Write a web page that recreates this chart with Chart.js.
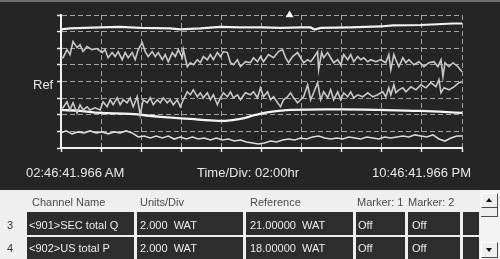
<!DOCTYPE html>
<html><head><meta charset="utf-8">
<script src="https://cdn.jsdelivr.net/npm/chart.js@4"></script>
<style>
html,body{margin:0;padding:0;width:500px;height:259px;overflow:hidden;background:#efefef;font-family:Arial,"Liberation Sans",sans-serif;}
#scope{position:absolute;left:0;top:0;width:500px;height:190px;background:#252525;}
#topstrip{position:absolute;left:0;top:0;width:500px;height:2px;background:#6e6e6e;}
canvas{position:absolute;left:0;top:0;}
.lbl{position:absolute;color:#e8e8e8;font-size:13px;line-height:13px;white-space:pre;}
.t{position:absolute;font-size:11px;line-height:11px;white-space:pre;}
.hdr{color:#4a4a4a;}
.num{color:#333;}
.cell{position:absolute;background:#2d2d2d;}
.ctext{color:#ededed;}
.btn{position:absolute;box-sizing:border-box;background:#efefef;border:1px solid;border-color:#ffffff #4a4a4a #4a4a4a #ffffff;}
.tri{position:absolute;width:0;height:0;border-left:3px solid transparent;border-right:3px solid transparent;}
</style></head><body>
<div id="scope"><canvas id="c" width="500" height="190"></canvas><div id="topstrip"></div></div>
<div id="labels"></div>
<div id="table"></div>
<script>
// ---- axis / label text ----
const START_LABEL = '02:46:41.966 AM';
const DIV_LABEL = 'Time/Div: 02:00hr';
const END_LABEL = '10:46:41.966 PM';
const REF_LABEL = 'Ref';

// x in minutes from start (0..1200, 120 min per division); y in screen divisions (0..8)
const MARKER_T = 684;

const T1 = [0,27,117,177,237,327,357,417,477,537,603,657,717,747,759,777,867,957,993,1077,1173,1200];
const V1 = [7.13,7.19,7.25,7.28,7.22,7.19,7.13,7.19,7.28,7.25,7.25,7.22,7.25,7.25,7.13,7.22,7.25,7.31,7.37,7.40,7.49,7.49];

const T2 = [0,6,18,27,36,48,57,66,78,93,
  108,123,132,141,153,162,171,183,192,201,
  213,222,231,243,252,261,273,282,291,303,
  312,321,333,342,351,363,366,378,387,396,
  408,417,426,438,447,456,468,477,486,498,
  507,516,528,537,552,567,576,588,597,606,
  621,636,651,663,672,681,693,708,717,726,
  738,747,756,768,771,780,786,798,807,816,
  828,837,846,858,867,876,888,897,906,918,
  927,942,957,972,981,987,996,1002,1011,1023,
  1032,1041,1056,1071,1086,1101,1116,1128,1137,1143,
  1149,1161,1173,1188,1200];
const V2 = [5.43,5.43,5.92,5.62,6.40,6.04,6.22,5.80,6.10,5.92,
  5.98,5.74,5.92,5.43,5.74,5.50,5.80,5.31,5.74,5.43,
  5.74,5.31,5.92,6.34,5.80,5.50,5.80,5.50,5.74,5.31,
  5.62,5.19,5.74,5.50,5.92,5.43,5.92,4.89,5.13,5.01,
  5.31,5.13,5.50,5.31,5.62,5.31,5.74,5.50,5.80,5.74,
  5.13,5.01,5.31,4.89,5.19,5.13,5.43,5.19,5.50,5.19,
  5.62,5.43,5.80,5.92,5.43,5.13,5.50,5.74,5.43,5.13,
  5.31,5.19,5.43,5.80,4.71,5.74,5.43,5.74,5.43,5.13,
  5.31,5.01,5.62,5.31,5.62,5.19,5.50,5.31,5.43,5.19,
  5.31,5.19,5.31,5.13,5.62,4.71,5.62,5.31,4.89,5.43,
  5.13,5.31,5.01,5.19,4.89,5.13,5.19,4.89,5.31,4.29,
  5.13,4.89,5.13,4.89,4.59];

const T3 = [0,6,18,27,36,48,57,66,78,87,
  102,117,126,138,147,156,168,177,186,198,
  207,216,228,237,246,258,267,276,288,297,
  306,318,327,336,348,357,366,378,387,396,
  408,417,426,438,447,456,468,477,486,498,
  507,516,528,537,552,567,576,588,597,606,
  618,627,636,648,657,666,678,687,696,708,
  717,726,738,747,756,768,777,786,798,807,
  816,828,837,846,858,867,876,888,903,918,
  933,948,963,972,981,987,996,1002,1011,1023,
  1032,1047,1062,1077,1092,1107,1122,1131,1137,1146,
  1161,1176,1191,1200];
const V3 = [2.35,2.42,2.78,2.29,2.72,2.11,2.60,2.29,2.48,2.29,
  2.42,2.29,2.78,2.48,2.90,2.60,3.02,2.60,2.90,2.72,
  3.02,2.48,3.08,1.99,2.90,2.72,3.02,2.60,2.90,2.72,
  3.02,2.72,2.90,2.60,2.90,2.48,2.90,3.38,3.20,3.50,
  3.08,3.32,3.02,3.32,2.90,3.20,2.60,3.02,3.32,3.08,
  3.38,3.02,3.20,2.90,3.32,3.20,3.38,3.02,3.62,3.08,
  3.38,2.90,3.08,2.72,2.48,2.90,3.08,3.32,3.02,2.72,
  2.90,3.08,3.80,2.90,3.32,3.93,2.90,3.38,3.02,3.50,
  2.90,3.38,2.90,3.32,3.08,3.38,3.02,3.20,3.08,3.32,
  3.08,3.20,3.38,3.08,3.62,3.20,3.80,3.32,3.50,3.62,
  3.38,3.68,3.50,3.80,3.62,3.93,3.68,4.11,3.32,3.62,
  3.50,3.68,3.93,3.99];

const T4 = [0,57,117,207,297,387,447,492,537,582,627,687,837,957,1077,1200];
const V4 = [2.29,2.23,2.11,2.05,1.87,1.75,1.66,1.63,1.75,1.99,2.17,2.29,2.32,2.29,2.23,2.11];

const T5 = [0,15,33,51,69,87,105,123,141,159,177,195,213,231,249,267,285,303,321,339,
  357,375,393,411,429,447,465,483,501,519,537,555,573,591,609,627,645,663,681,699,
  717,735,753,771,789,807,825,843,861,879,897,915,933,951,969,987,1005,1023,1041,1059,
  1077,1095,1113,1131,1149,1167,1185,1200];
const V5 = [0.91,1.03,0.85,0.97,0.91,1.03,0.91,0.97,0.85,0.97,
  0.91,1.03,0.91,0.66,0.72,0.60,0.72,0.60,0.72,0.54,
  0.66,0.54,0.66,0.54,0.60,0.48,0.60,0.48,0.54,0.42,
  0.48,0.36,0.30,0.24,0.30,0.42,0.36,0.48,0.54,0.48,
  0.60,0.54,0.66,0.72,0.60,0.54,0.60,0.54,0.66,0.60,
  0.54,0.66,0.60,0.54,0.66,0.60,0.66,0.72,0.66,0.79,
  0.72,0.66,0.79,0.54,0.42,0.60,0.72,0.72];

// ---- table ----
const ROW_NUMS = ['3','4'];
const HEADERS = ['Channel Name','Units/Div','Reference','Marker: 1','Marker: 2'];
const CHANNEL_NAMES = ['<901>SEC total Q','<902>US total P'];
const UNITS_DIV = ['2.000  WAT','2.000  WAT'];
const REFERENCES = ['21.00000  WAT','18.00000  WAT'];
const MARKER1 = ['Off','Off'];
const MARKER2 = ['Off','Off'];

function pts(t, v){ const n = Math.min(t.length, v.length); const a=[]; for(let i=0;i<n;i++) a.push({x:t[i], y:v[i]}); return a; }
function ds(t, v, color, w, tension){ return {type:'line', data:pts(t,v), borderColor:color, borderWidth:w, pointRadius:0, tension:tension||0, fill:false}; }

const gridOpt = {color:'#a2a2a2', lineWidth:1, tickLength:4, tickColor:'#eeeeee', tickWidth:1.5, tickBorderDash:[]};
const borderOpt = {display:true, color:'#f0f0f0', width:2, dash:[5,3]};

new Chart(document.getElementById('c'), {
  type:'line',
  data:{datasets:[
    ds(T1,V1,'#f2f2f2',2.2),
    ds(T2,V2,'#c8c8c8',1.6),
    ds(T3,V3,'#c8c8c8',1.6),
    ds(T4,V4,'#f4f4f4',2.3,0.4),
    ds(T5,V5,'#dadada',1.6),
    {type:'scatter', data:[{x:MARKER_T, y:8}], showLine:false, pointStyle:'triangle', pointRadius:4.5, backgroundColor:'#ffffff', borderColor:'#ffffff', borderWidth:0, clip:false}
  ]},
  options:{
    responsive:false, animation:false, devicePixelRatio:1,
    layout:{padding:{top:15,right:38,left:0,bottom:0}},
    plugins:{legend:{display:false}, tooltip:{enabled:false}},
    scales:{
      x:{type:'linear', min:0, max:1200, ticks:{stepSize:120, display:false}, grid:gridOpt, border:borderOpt, afterFit(s){s.height=42;}},
      y:{type:'linear', min:0, max:8, ticks:{stepSize:1, display:false}, grid:gridOpt, border:borderOpt, afterFit(s){s.width=61;}}
    }
  }
});

// ---- overlay labels ----
function addDiv(parent, cls, text, left, top, extra){
  const d=document.createElement('div'); d.className=cls; d.textContent=text;
  d.style.left=left+'px'; d.style.top=top+'px'; if(extra) Object.assign(d.style, extra);
  parent.appendChild(d); return d;
}
const L = document.getElementById('labels');
addDiv(L,'lbl',REF_LABEL,33,77.6);
addDiv(L,'lbl',START_LABEL,26,165.6);
addDiv(L,'lbl',DIV_LABEL,197,165.6);
addDiv(L,'lbl',END_LABEL,372,165.6);

const TB = document.getElementById('table');
const COLS = [{l:27,w:107,o:2},{l:137,w:106,o:3},{l:246,w:107,o:4},{l:356,w:49,o:2},{l:408,w:52,o:4},{l:463,w:16,o:0}];
const ROWS = [{t:212,h:23,c:220},{t:237,h:22,c:243}];
const HDR_X = [32,140,250,357,408];
HEADERS.forEach((h,i)=>addDiv(TB,'t hdr',h,HDR_X[i],196.6));
ROWS.forEach((r,ri)=>{
  COLS.forEach(c=>{ const d=document.createElement('div'); d.className='cell'; Object.assign(d.style,{left:c.l+'px',top:r.t+'px',width:c.w+'px',height:r.h+'px'}); TB.appendChild(d); });
  addDiv(TB,'t num',ROW_NUMS[ri],7,r.c);
  const vals=[CHANNEL_NAMES[ri],UNITS_DIV[ri],REFERENCES[ri],MARKER1[ri],MARKER2[ri]];
  vals.forEach((v,ci)=>addDiv(TB,'t ctext',v,COLS[ci].l+COLS[ci].o,r.c));
});
// scrollbar
const track=document.createElement('div'); Object.assign(track.style,{position:'absolute',left:'480px',top:'190px',width:'20px',height:'69px',background:'#f3f3f3'}); TB.appendChild(track);
const up=document.createElement('div'); up.className='btn'; Object.assign(up.style,{left:'481px',top:'193px',width:'17px',height:'15px'}); TB.appendChild(up);
const upT=document.createElement('div'); upT.className='tri'; Object.assign(upT.style,{left:'486px',top:'198px',borderBottom:'4px solid #111'}); TB.appendChild(upT);
const th=document.createElement('div'); Object.assign(th.style,{position:'absolute',left:'481px',top:'208px',width:'16px',height:'8px',borderRight:'1px solid #4a4a4a',borderBottom:'1px solid #4a4a4a',background:'#efefef'}); TB.appendChild(th);
const dn=document.createElement('div'); dn.className='btn'; Object.assign(dn.style,{left:'481px',top:'242px',width:'17px',height:'16px'}); TB.appendChild(dn);
const dnT=document.createElement('div'); dnT.className='tri'; Object.assign(dnT.style,{left:'486px',top:'248px',borderTop:'4px solid #111'}); TB.appendChild(dnT);
</script>
</body></html>
